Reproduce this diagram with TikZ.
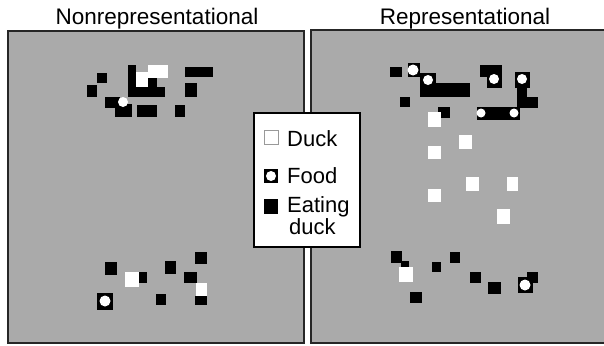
\documentclass[tikz,border=0pt]{standalone}
\usepackage{fontspec}
\setmainfont{Liberation Sans}
\begin{document}
\begin{tikzpicture}[x=1pt,y=-1pt,
  panel/.style={fill=panelgray,draw=black!85,line width=1.6pt},
  blk/.style={fill=black},
  wht/.style={fill=white},
  dot/.style={fill=white,circle,inner sep=0pt,minimum size=#1},
  dot/.default=10pt,
  ttl/.style={font=\fontsize{22.5}{24}\selectfont,inner sep=0pt},
  lg/.style={font=\fontsize{22}{23}\selectfont,inner sep=0pt,anchor=west}]
\definecolor{panelgray}{RGB}{170,170,170}
\useasboundingbox (0,0) rectangle (604,345);
\fill[white] (0,0) rectangle (604,345);
% panels
\path[panel] (8,31) rectangle (304,343);
\path[panel] (311,30) rectangle (606,343);
% titles
\node[ttl] (t1) at (157,19) {Nonrepresentational};
\node[ttl] (t2) at (465,19) {Representational};
% ---- left panel, top cluster
\fill[blk] (128,65) rectangle (136,97);
\fill[wht] (148,65) rectangle (168,78);
\fill[wht] (136,72) rectangle (148,88);
\fill[blk] (148,78) rectangle (157,87);
\fill[blk] (136,87) rectangle (165,97);
\fill[blk] (97,73) rectangle (107,83);
\fill[blk] (87,85) rectangle (97,97);
\fill[blk] (105,97) rectangle (120,108);
\fill[blk] (115,104) rectangle (132,117);
\node[dot=10pt] (f1) at (123,102) {};
\fill[blk] (137,105) rectangle (157,117);
\fill[blk] (185,67) rectangle (213,77);
\fill[blk] (185,83) rectangle (197,97);
\fill[blk] (175,105) rectangle (185,117);
% ---- left panel, bottom cluster
\fill[blk] (105,262) rectangle (117,275);
\fill[wht] (125,272) rectangle (139,287);
\fill[blk] (139,272) rectangle (147,283);
\fill[blk] (165,261) rectangle (176,274);
\fill[blk] (195,252) rectangle (207,264);
\fill[blk] (184,272) rectangle (197,283);
\fill[wht] (196,283) rectangle (207,296);
\fill[blk] (195,296) rectangle (207,305);
\fill[blk] (156,294) rectangle (166,305);
\fill[blk] (97,293) rectangle (113,310);
\node[dot=11pt] (f2) at (105,301) {};
% ---- right panel, top cluster
\fill[blk] (390,67) rectangle (402,77);
\fill[blk] (408,63) rectangle (420,77);
\node[dot=11pt] (f3) at (413,70) {};
\fill[blk] (420,73) rectangle (436,87);
\fill[blk] (420,83) rectangle (470,97);
\node[dot=10pt] (f4) at (428,80) {};
\fill[blk] (400,97) rectangle (410,107);
\fill[blk] (438,107) rectangle (450,118);
\fill[blk] (480,65) rectangle (502,77);
\fill[blk] (487,77) rectangle (502,88);
\node[dot=10pt] (f5) at (494,79) {};
\fill[blk] (515,72) rectangle (530,88);
\fill[blk] (517,88) rectangle (527,108);
\fill[blk] (527,97) rectangle (538,108);
\node[dot=10pt] (f6) at (522,79) {};
\fill[blk] (477,107) rectangle (520,120);
\node[dot=9pt] (f7) at (481,113) {};
\node[dot=9pt] (f8) at (514,113) {};
% ducks (white)
\fill[wht] (428,112) rectangle (441,127);
\fill[wht] (459,135) rectangle (472,149);
\fill[wht] (428,146) rectangle (441,159);
\fill[wht] (466,177) rectangle (479,191);
\fill[wht] (507,177) rectangle (518,191);
\fill[wht] (428,189) rectangle (441,202);
\fill[wht] (497,209) rectangle (510,224);
% ---- right panel, bottom cluster
\fill[blk] (391,251) rectangle (402,263);
\fill[blk] (401,261) rectangle (409,267);
\fill[wht] (399,267) rectangle (413,282);
\fill[blk] (410,292) rectangle (422,303);
\fill[blk] (432,262) rectangle (441,272);
\fill[blk] (450,252) rectangle (460,263);
\fill[blk] (470,272) rectangle (481,283);
\fill[blk] (488,282) rectangle (501,294);
\fill[blk] (527,272) rectangle (538,283);
\fill[blk] (518,277) rectangle (533,293);
\node[dot=11pt] (f9) at (525,285) {};
% ---- legend
\draw[fill=white,line width=1.6pt] (254,113) rectangle (360,247);
\draw[fill=white,draw=black!40,line width=0.5pt] (264,130) rectangle (278,144);
\node[lg] (ld) at (287,139) {Duck};
\fill[blk] (264,169) rectangle (278,183);
\node[dot=10pt] (lf) at (271,176) {};
\node[lg] (lfo) at (287,176) {Food};
\fill[blk] (264,199) rectangle (278,214);
\node[lg,align=left,anchor=north west] (le) at (287,196) {Eating\\[-1pt]\hspace*{2pt}duck};
\end{tikzpicture}
\end{document}
